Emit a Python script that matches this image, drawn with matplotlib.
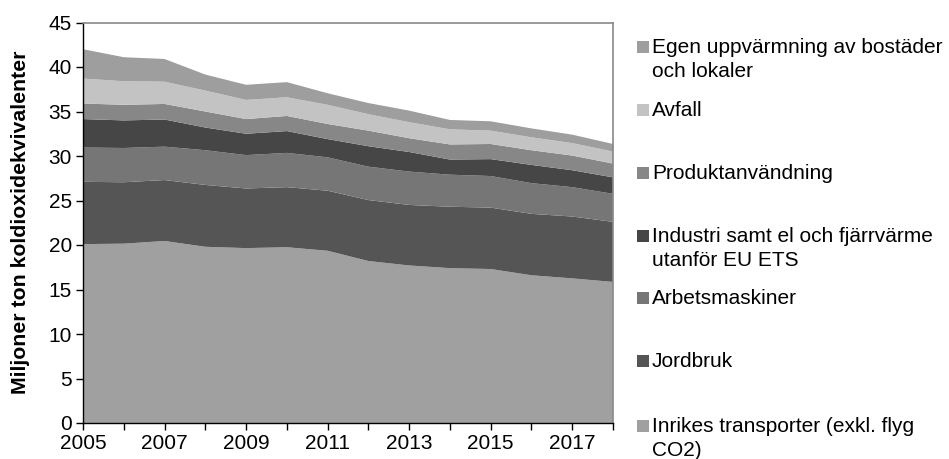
import matplotlib
matplotlib.use("Agg")
import matplotlib.pyplot as plt
from matplotlib.patches import Rectangle

plt.rcParams['font.family'] = ['Liberation Sans', 'DejaVu Sans']

years = list(range(2005, 2019))

# stacked from bottom to top (miljoner ton CO2-ekv)
transport = [20.1, 20.15, 20.45, 19.8, 19.65, 19.75, 19.35, 18.2, 17.7, 17.4, 17.3, 16.6, 16.25, 15.85]
jordbruk = [7.0, 6.9, 6.85, 6.95, 6.7, 6.75, 6.75, 6.85, 6.8, 6.9, 6.9, 6.9, 6.95, 6.75]
arbetsmaskiner = [3.85, 3.85, 3.75, 3.9, 3.75, 3.85, 3.75, 3.75, 3.75, 3.6, 3.55, 3.45, 3.3, 3.15]
industri = [3.2, 3.1, 3.05, 2.55, 2.4, 2.45, 2.05, 2.3, 2.2, 1.7, 1.9, 2.05, 1.9, 1.85]
produkt = [1.75, 1.75, 1.75, 1.8, 1.65, 1.7, 1.7, 1.75, 1.55, 1.7, 1.7, 1.65, 1.65, 1.55]
avfall = [2.8, 2.65, 2.5, 2.35, 2.15, 2.1, 2.15, 1.85, 1.8, 1.7, 1.5, 1.45, 1.4, 1.35]
egen = [3.3, 2.7, 2.55, 1.8, 1.7, 1.7, 1.3, 1.25, 1.3, 1.05, 1.05, 1.0, 0.95, 0.85]

labels = [
    "Inrikes transporter (exkl. flyg\nCO2)",
    "Jordbruk",
    "Arbetsmaskiner",
    "Industri samt el och fjärrvärme\nutanför EU ETS",
    "Produktanvändning",
    "Avfall",
    "Egen uppvärmning av bostäder\noch lokaler",
]
colors = ["#a0a0a0", "#555555", "#767676", "#464646", "#878787", "#c3c3c3", "#9e9e9e"]

W, H = 949, 459
fig = plt.figure(figsize=(W / 100, H / 100), dpi=100)
ax = fig.add_axes([83 / W, 1 - 423 / H, 530 / W, 400.5 / H])

ax.stackplot(years, transport, jordbruk, arbetsmaskiner, industri, produkt, avfall, egen,
             colors=colors, linewidth=0)

ax.set_xlim(2005, 2018)
ax.set_ylim(0, 45)
ax.set_yticks(range(0, 46, 5))
ax.set_xticks(years)
ax.set_xticklabels([str(y) if y % 2 == 1 else "" for y in years])
ax.tick_params(axis='both', labelsize=15, direction='out', length=5, width=1, color='black')
ax.tick_params(axis='x', pad=3)
ax.tick_params(axis='y', pad=3)

for s in ['top', 'right']:
    ax.spines[s].set_color('#888888')
    ax.spines[s].set_linewidth(1.2)
for s in ['left', 'bottom']:
    ax.spines[s].set_color('black')
    ax.spines[s].set_linewidth(1)

fig.text(21 / W, 1 - 222 / H, "Miljoner ton koldioxidekvivalenter", rotation=90,
         ha='center', va='center', fontsize=15.3, fontweight='bold')

# legend, top entry first, evenly spaced like the original
leg_y = [47, 110, 173, 236, 298, 361, 426]
for i, y in enumerate(leg_y):
    k = len(labels) - 1 - i
    fig.patches.append(Rectangle((637 / W, 1 - (y + 5.5) / H), 11.5 / W, 11.5 / H,
                                 transform=fig.transFigure, facecolor=colors[k],
                                 edgecolor='none'))
    fig.text(652 / W, 1 - (y - 9) / H, labels[k], ha='left', va='top',
             fontsize=15, linespacing=1.35)

fig.savefig("out.png", dpi=100)
